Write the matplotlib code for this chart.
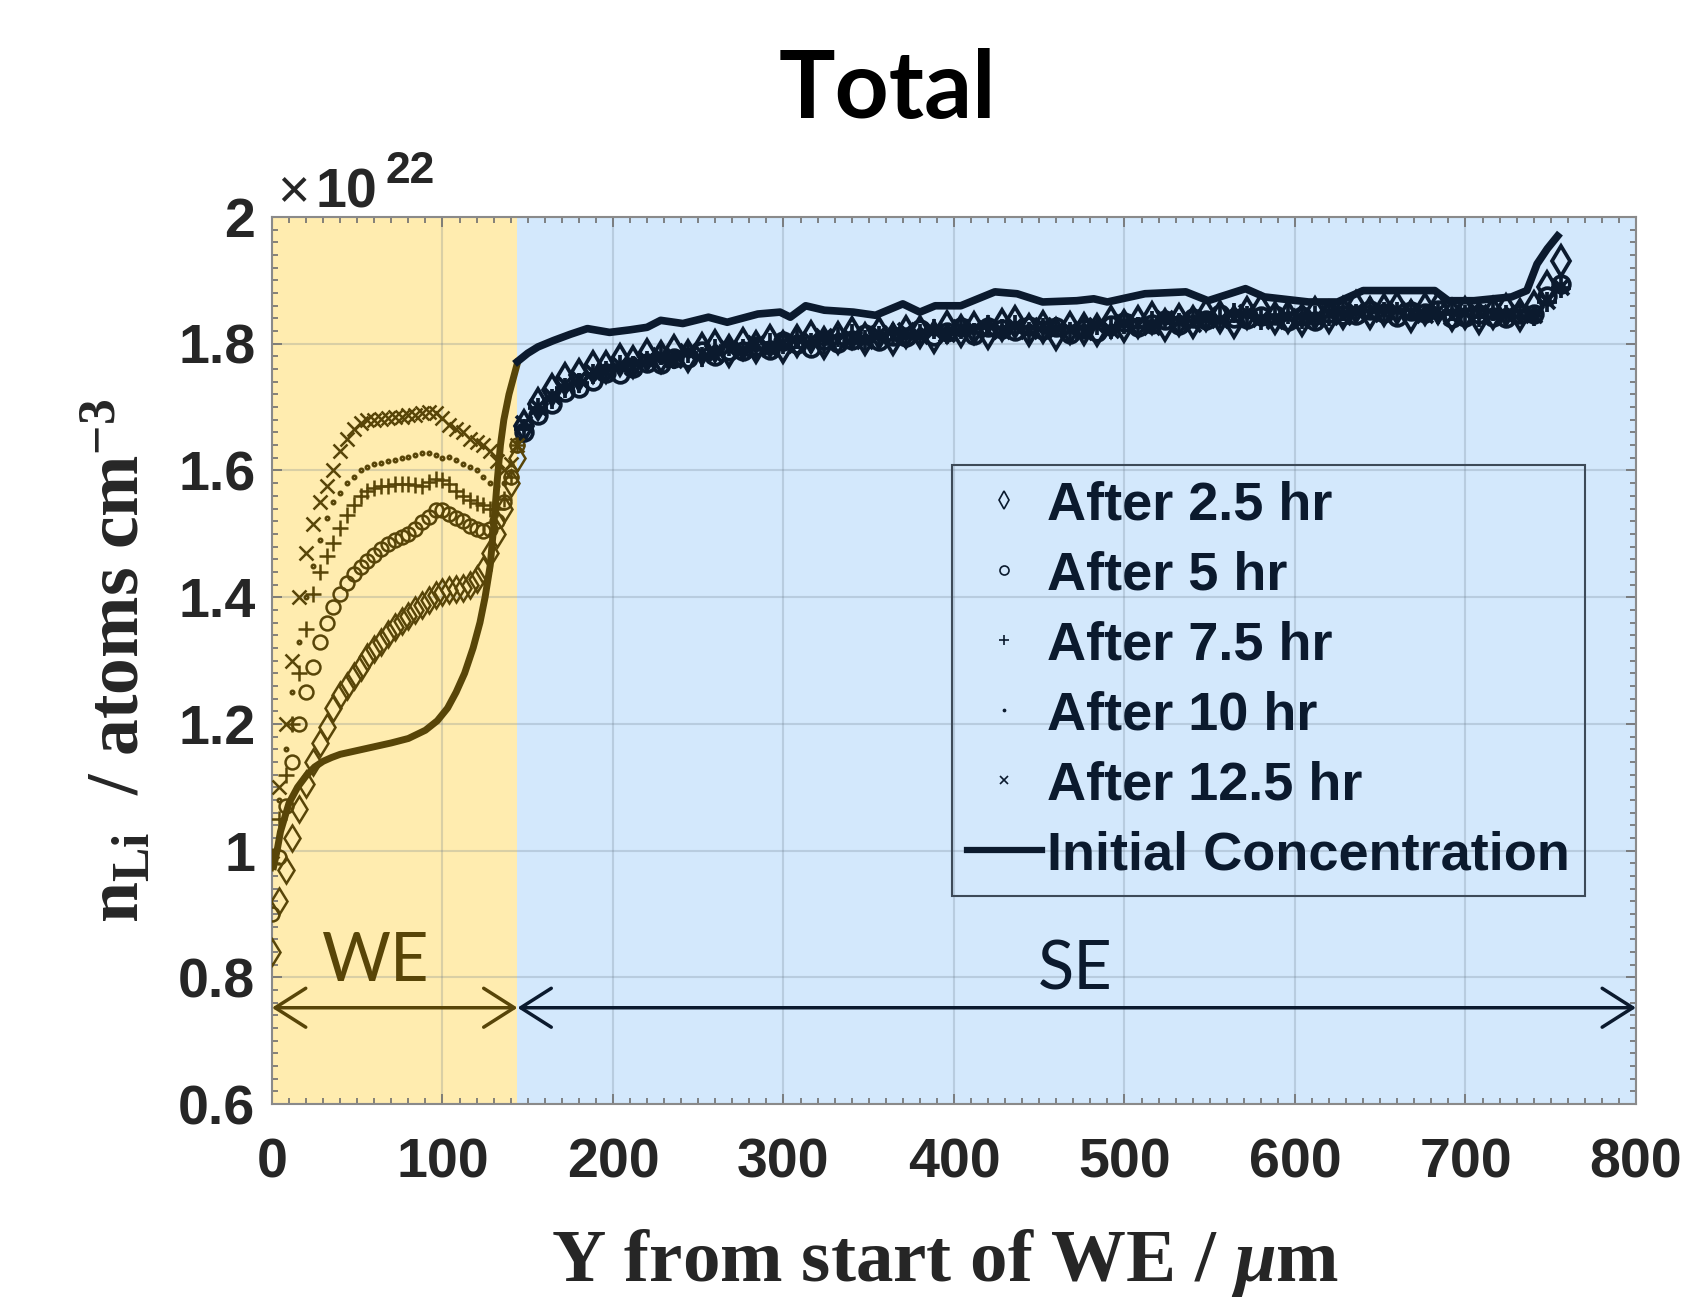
import numpy as np
import matplotlib.pyplot as plt
from matplotlib.lines import Line2D
from matplotlib.ticker import MultipleLocator

plt.rcParams['font.family'] = ['Liberation Sans', 'DejaVu Sans']
plt.rcParams['font.weight'] = 'bold'
plt.rcParams['mathtext.fontset'] = 'custom'
plt.rcParams['mathtext.rm'] = 'Liberation Serif:bold'
plt.rcParams['mathtext.it'] = 'Liberation Serif:italic:bold'
plt.rcParams['mathtext.bf'] = 'Liberation Serif:bold'

# n_Li in units of 1e22 atoms cm^-3, Y in um
we_end = 144
x_we = list(range(0, 145, 4))
x_se = list(range(148, 757, 8))

labels = ['After 2.5 hr', 'After 5 hr', 'After 7.5 hr', 'After 10 hr', 'After 12.5 hr']

# WE part
h25_we = [0.84, 0.92, 0.97, 1.02, 1.065, 1.105, 1.14, 1.17, 1.195, 1.225, 1.245, 1.26, 1.275,
          1.29, 1.305, 1.318, 1.33, 1.342, 1.353, 1.363, 1.37, 1.38, 1.387, 1.395, 1.403, 1.408,
          1.411, 1.413, 1.415, 1.42, 1.428, 1.443, 1.47, 1.50, 1.54, 1.58, 1.62]
h5_we = [0.90, 0.99, 1.07, 1.14, 1.20, 1.25, 1.29, 1.33, 1.36, 1.385, 1.405, 1.423, 1.437,
         1.447, 1.457, 1.467, 1.476, 1.484, 1.49, 1.495, 1.50, 1.508, 1.518, 1.527, 1.537, 1.537,
         1.532, 1.525, 1.52, 1.513, 1.508, 1.505, 1.508, 1.52, 1.55, 1.59, 1.64]
h75_we = [0.98, 1.05, 1.12, 1.20, 1.28, 1.35, 1.405, 1.44, 1.465, 1.485, 1.51, 1.53, 1.545,
          1.56, 1.567, 1.572, 1.575, 1.576, 1.578, 1.578, 1.578, 1.577, 1.576, 1.582, 1.587, 1.585,
          1.578, 1.568, 1.56, 1.553, 1.548, 1.545, 1.54, 1.54, 1.555, 1.59, 1.64]
h10_we = [1.00, 1.08, 1.16, 1.25, 1.33, 1.40, 1.45, 1.49, 1.525, 1.55, 1.565, 1.58, 1.59,
          1.60, 1.605, 1.61, 1.612, 1.615, 1.617, 1.62, 1.622, 1.624, 1.627, 1.628, 1.624, 1.62,
          1.622, 1.617, 1.61, 1.605, 1.60, 1.59, 1.58, 1.575, 1.58, 1.61, 1.645]
h125_we = [1.00, 1.10, 1.20, 1.30, 1.40, 1.47, 1.515, 1.55, 1.575, 1.60, 1.63, 1.65, 1.665,
           1.675, 1.68, 1.68, 1.682, 1.683, 1.685, 1.685, 1.687, 1.688, 1.69, 1.692, 1.69, 1.683,
           1.672, 1.665, 1.66, 1.65, 1.645, 1.64, 1.63, 1.615, 1.60, 1.61, 1.64]

# SE part
h25_se = [1.670, 1.705, 1.727, 1.745, 1.750, 1.764, 1.764, 1.775, 1.772, 1.783,
          1.779, 1.788, 1.780, 1.791, 1.797, 1.788, 1.799, 1.795, 1.805, 1.795,
          1.805, 1.810, 1.801, 1.809, 1.817, 1.807, 1.817, 1.807, 1.819, 1.818,
          1.810, 1.826, 1.820, 1.825, 1.817, 1.830, 1.834, 1.822, 1.826, 1.816,
          1.825, 1.823, 1.822, 1.835, 1.828, 1.835, 1.841, 1.830, 1.838, 1.835,
          1.846, 1.843, 1.835, 1.849, 1.853, 1.840, 1.843, 1.837, 1.849, 1.843,
          1.849, 1.858, 1.848, 1.853, 1.856, 1.844, 1.855, 1.857, 1.845, 1.849,
          1.840, 1.848, 1.854, 1.845, 1.858, 1.890, 1.930]
h5_se = [1.660, 1.687, 1.705, 1.724, 1.730, 1.741, 1.754, 1.752, 1.761, 1.770,
         1.768, 1.778, 1.777, 1.789, 1.780, 1.789, 1.788, 1.797, 1.790, 1.804,
         1.799, 1.794, 1.806, 1.801, 1.806, 1.815, 1.805, 1.813, 1.811, 1.823,
         1.813, 1.819, 1.826, 1.814, 1.826, 1.823, 1.820, 1.828, 1.822, 1.827,
         1.816, 1.824, 1.819, 1.829, 1.834, 1.827, 1.831, 1.838, 1.830, 1.840,
         1.837, 1.847, 1.841, 1.839, 1.844, 1.846, 1.836, 1.844, 1.836, 1.849,
         1.846, 1.845, 1.854, 1.849, 1.843, 1.851, 1.848, 1.853, 1.841, 1.843,
         1.847, 1.842, 1.841, 1.847, 1.847, 1.875, 1.895]
h75_se = [1.665, 1.698, 1.713, 1.731, 1.738, 1.752, 1.757, 1.767, 1.765, 1.773,
          1.782, 1.776, 1.785, 1.779, 1.791, 1.796, 1.791, 1.790, 1.801, 1.799,
          1.808, 1.801, 1.800, 1.810, 1.815, 1.806, 1.813, 1.817, 1.809, 1.815,
          1.823, 1.816, 1.823, 1.817, 1.830, 1.824, 1.829, 1.818, 1.825, 1.826,
          1.818, 1.828, 1.829, 1.824, 1.831, 1.826, 1.836, 1.837, 1.833, 1.843,
          1.836, 1.840, 1.849, 1.844, 1.838, 1.845, 1.847, 1.839, 1.844, 1.844,
          1.851, 1.847, 1.858, 1.850, 1.850, 1.854, 1.847, 1.847, 1.852, 1.846,
          1.842, 1.851, 1.846, 1.850, 1.844, 1.866, 1.888]
h10_se = [1.668, 1.693, 1.719, 1.730, 1.747, 1.747, 1.760, 1.762, 1.774, 1.775,
          1.774, 1.784, 1.784, 1.784, 1.793, 1.793, 1.789, 1.797, 1.798, 1.797,
          1.806, 1.802, 1.807, 1.812, 1.805, 1.811, 1.810, 1.819, 1.814, 1.820,
          1.818, 1.823, 1.818, 1.827, 1.826, 1.825, 1.830, 1.826, 1.821, 1.824,
          1.823, 1.819, 1.831, 1.827, 1.832, 1.836, 1.829, 1.836, 1.841, 1.836,
          1.842, 1.839, 1.847, 1.846, 1.841, 1.838, 1.845, 1.845, 1.842, 1.850,
          1.845, 1.853, 1.851, 1.857, 1.853, 1.847, 1.853, 1.848, 1.850, 1.850,
          1.846, 1.844, 1.851, 1.842, 1.852, 1.870, 1.892]
h125_se = [1.673, 1.701, 1.718, 1.737, 1.744, 1.755, 1.756, 1.766, 1.764, 1.774,
           1.780, 1.775, 1.787, 1.785, 1.782, 1.792, 1.790, 1.799, 1.792, 1.802,
           1.798, 1.806, 1.811, 1.804, 1.809, 1.805, 1.815, 1.811, 1.820, 1.813,
           1.820, 1.815, 1.825, 1.823, 1.820, 1.820, 1.828, 1.820, 1.828, 1.820,
           1.821, 1.818, 1.828, 1.822, 1.833, 1.831, 1.827, 1.839, 1.834, 1.832,
           1.841, 1.837, 1.841, 1.848, 1.839, 1.836, 1.842, 1.838, 1.840, 1.847,
           1.843, 1.851, 1.847, 1.849, 1.853, 1.848, 1.846, 1.851, 1.843, 1.848,
           1.849, 1.845, 1.845, 1.848, 1.846, 1.868, 1.890]

# initial concentration
x_init_we = [1, 3, 5, 10, 15, 20, 25, 30, 35, 40, 50, 60, 70, 80, 90, 97, 103, 108, 113, 118,
             122, 125, 128, 130, 132, 134, 136, 139, 142, 144]
y_init_we = [0.975, 1.00, 1.03, 1.075, 1.10, 1.118, 1.132, 1.141, 1.147, 1.152, 1.158, 1.164,
             1.17, 1.177, 1.19, 1.205, 1.225, 1.25, 1.28, 1.32, 1.36, 1.40, 1.45, 1.51, 1.58,
             1.64, 1.68, 1.72, 1.75, 1.77]
x_init_se = [144, 150, 156, 165, 175, 185, 198, 210, 220, 228, 241, 256, 267, 285, 298, 304,
             313, 324, 341, 354, 370, 380, 389, 404, 424, 437, 452, 472, 482, 490, 512, 536,
             549, 571, 582, 608, 625, 640, 673, 682, 690, 705, 727, 736, 742, 748, 754]
y_init_se = [1.772, 1.785, 1.795, 1.805, 1.815, 1.824, 1.818, 1.822, 1.826, 1.837, 1.832,
             1.842, 1.834, 1.847, 1.850, 1.842, 1.860, 1.853, 1.850, 1.845, 1.863, 1.850,
             1.860, 1.860, 1.882, 1.879, 1.866, 1.868, 1.871, 1.866, 1.879, 1.882, 1.868,
             1.887, 1.874, 1.866, 1.866, 1.884, 1.884, 1.884, 1.868, 1.868, 1.874, 1.884,
             1.926, 1.950, 1.970]

series_we = [h25_we, h5_we, h75_we, h10_we, h125_we]
series_se = [h25_se, h5_se, h75_se, h10_se, h125_se]
markers = ['d', 'o', '+', '.', 'x']
ms_we = [13, 10, 12, 5, 10]
ms_se = [15, 12, 14, 7, 12]

olive = '#584508'
navy = '#0b1a2e'

fig = plt.figure(figsize=(16.85, 13.03), dpi=100)
ax = fig.add_axes([0.1614, 0.1527, 0.8095, 0.6807])

ax.axvspan(0, we_end, color='#ffecaf', zorder=0, lw=0)
ax.axvspan(we_end, 800, color='#d3e8fc', zorder=0, lw=0)

for ywe, yse, m, s1, s2 in zip(series_we, series_se, markers, ms_we, ms_se):
    ax.plot(x_we, ywe, ls='none', marker=m, ms=s1, mfc='none', mec=olive, mew=1.8, zorder=3)
    ax.plot(x_se, yse, ls='none', marker=m, ms=s2, mfc='none', mec=navy, mew=2.7, zorder=3)

ax.plot(x_init_we, y_init_we, color=olive, lw=5, zorder=4)
ax.plot(x_init_se, y_init_se, color=navy, lw=5.5, zorder=4)

# WE / SE arrows
ax.annotate('', xy=(0, 0.752), xytext=(we_end, 0.752),
            arrowprops=dict(arrowstyle='<->,head_length=1.1,head_width=0.7', color=olive,
                            lw=2.5, shrinkA=0, shrinkB=0, mutation_scale=20), zorder=5)
ax.annotate('', xy=(we_end, 0.752), xytext=(800, 0.752),
            arrowprops=dict(arrowstyle='<->,head_length=1.1,head_width=0.7', color=navy,
                            lw=2.5, shrinkA=0, shrinkB=0, mutation_scale=20),
            annotation_clip=False, zorder=5)
ax.text(61, 0.775, 'WE', family='Lato', weight='normal', fontsize=48, color=olive,
        ha='center', va='bottom')
ax.text(471, 0.762, 'SE', family='Lato', weight='normal', fontsize=48, color=navy,
        ha='center', va='bottom')

ax.set_xlim(0, 800)
ax.set_ylim(0.6, 2.0)
ax.set_xticks([0, 100, 200, 300, 400, 500, 600, 700, 800])
ax.set_yticks([0.6, 0.8, 1.0, 1.2, 1.4, 1.6, 1.8, 2.0])
ax.set_yticklabels(['0.6', '0.8', '1', '1.2', '1.4', '1.6', '1.8', '2'])
ax.xaxis.set_minor_locator(MultipleLocator(10))
ax.yaxis.set_minor_locator(MultipleLocator(0.02))
ax.tick_params(which='both', direction='in', top=True, right=True, color='#6f6f6f',
               width=1.2, labelsize=40, labelcolor='#262626')
ax.tick_params(which='major', length=7)
ax.tick_params(which='minor', length=4)
ax.tick_params(axis='x', pad=24)
ax.tick_params(axis='y', pad=12)
ax.set_axisbelow('line')
ax.grid(True, which='major', color='#6b7b8b', alpha=0.25, lw=1.5)
for sp in ax.spines.values():
    sp.set_color('#8a8a8a')
    sp.set_linewidth(1.5)

handles = [Line2D([], [], ls='none', marker=m, ms=s, mfc='none', mec=navy, mew=1.2)
           for m, s in zip(markers, [9, 6.5, 7, 3, 6])]
handles.append(Line2D([], [], color=navy, lw=4.5))
leg = ax.legend(handles, labels + ['Initial Concentration'], loc='upper left',
                bbox_to_anchor=(0.4985, 0.7204), prop=dict(family='Liberation Sans',
                weight='bold', size=39), labelcolor=navy, handlelength=1.38,
                handletextpad=0.1, labelspacing=0.37, borderpad=0.28, borderaxespad=0,
                fancybox=False, framealpha=1)
leg.get_frame().set_facecolor('none')
leg.get_frame().set_edgecolor('#3d4a58')
leg.get_frame().set_linewidth(1.5)

fig.text(0.1644, 0.8411, '\u00d7', fontsize=40, weight='normal', color='#262626',
         ha='left', va='baseline')
fig.text(0.1870, 0.8411, '10', fontsize=40, color='#262626', ha='left', va='baseline')
fig.text(0.2290, 0.8596, '22', fontsize=32, color='#262626', ha='left', va='baseline')

fig.text(0.5264, 0.930, 'Total', family='Lato', weight='bold', fontsize=68,
         ha='center', va='center', color='black')
fig.text(0.561, 0.031, 'Y from start of WE / $\\mu$m', family='Liberation Serif',
         weight='bold', fontsize=54, ha='center', va='center', color='#262626')
fig.text(0.070, 0.493, 'n$_{\\mathrm{Li}}$  / atoms cm$^{\\mathrm{-3}}$',
         family='Liberation Serif', weight='bold', fontsize=53, rotation=90,
         ha='center', va='center', color='#262626')

fig.savefig('out.png', dpi=100)
